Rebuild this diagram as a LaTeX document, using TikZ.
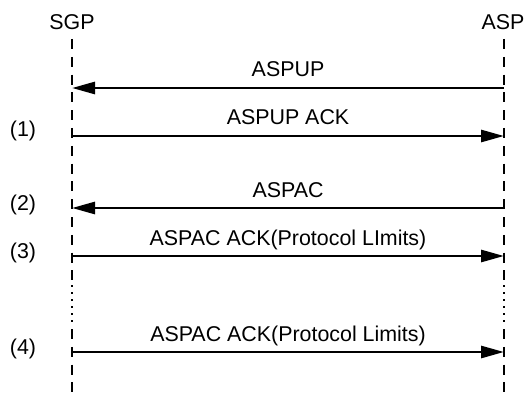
\documentclass[tikz,border=0pt]{standalone}
\usepackage{fontspec}
\setmainfont{Liberation Sans}
\usetikzlibrary{arrows.meta}
\begin{document}
\begin{tikzpicture}[x=1pt,y=-1pt,
  lbl/.style={font=\fontsize{21.4}{25}\selectfont, inner sep=0pt},
  life/.style={line width=2.6pt, dash pattern=on 10pt off 7.8pt},
  dotline/.style={line width=2.6pt, dash pattern=on 2.4pt off 4.6pt},
  msg/.style={line width=2.8pt, -{Triangle[length=23pt,width=12pt]}},
]
\useasboundingbox (0,0) rectangle (524,398);
% headers
\node[lbl] (sgp) at (72,22) {SGP};
\node[lbl] (asp) at (503,22) {ASP};
% lifeline coordinates
\coordinate (sgpTop) at (72,39);
\coordinate (sgpA) at (72,282);
\coordinate (sgpB) at (72,285);
\coordinate (sgpC) at (72,324);
\coordinate (sgpD) at (72,329);
\coordinate (sgpBot) at (72,398);
\coordinate (aspTop) at (504,39);
\coordinate (aspA) at (504,282);
\coordinate (aspB) at (504,285);
\coordinate (aspC) at (504,324);
\coordinate (aspD) at (504,329);
\coordinate (aspBot) at (504,398);
\draw[life] (sgpTop) -- (sgpA);
\draw[dotline] (sgpB) -- (sgpC);
\draw[life] (sgpD) -- (sgpBot);
\draw[life] (aspTop) -- (aspA);
\draw[dotline] (aspB) -- (aspC);
\draw[life] (aspD) -- (aspBot);
% message endpoints
\coordinate (s1) at (72,88);  \coordinate (a1) at (504,88);
\coordinate (s2) at (72,136); \coordinate (a2) at (504,136);
\coordinate (s3) at (72,208); \coordinate (a3) at (504,208);
\coordinate (s4) at (72,256); \coordinate (a4) at (504,256);
\coordinate (s5) at (72,352); \coordinate (a5) at (504,352);
\draw[msg] (a1) -- (s1) node[lbl, midway, anchor=base, yshift=11pt] (m1) {ASPUP};
\draw[msg] (s2) -- (a2) node[lbl, midway, anchor=base, yshift=11pt] (m2) {ASPUP ACK};
\draw[msg] (a3) -- (s3) node[lbl, midway, anchor=base, yshift=11pt] (m3) {ASPAC};
\draw[msg] (s4) -- (a4) node[lbl, midway, anchor=base, yshift=11pt] (m4) {ASPAC ACK(Protocol LImits)};
\draw[msg] (s5) -- (a5) node[lbl, midway, anchor=base, yshift=11pt] (m5) {ASPAC ACK(Protocol Limits)};
% step numbers
\node[lbl, anchor=base] (n1) at (23,137) {(1)};
\node[lbl, anchor=base] (n2) at (23,210) {(2)};
\node[lbl, anchor=base] (n3) at (23,258) {(3)};
\node[lbl, anchor=base] (n4) at (23,354) {(4)};
\end{tikzpicture}
\end{document}
